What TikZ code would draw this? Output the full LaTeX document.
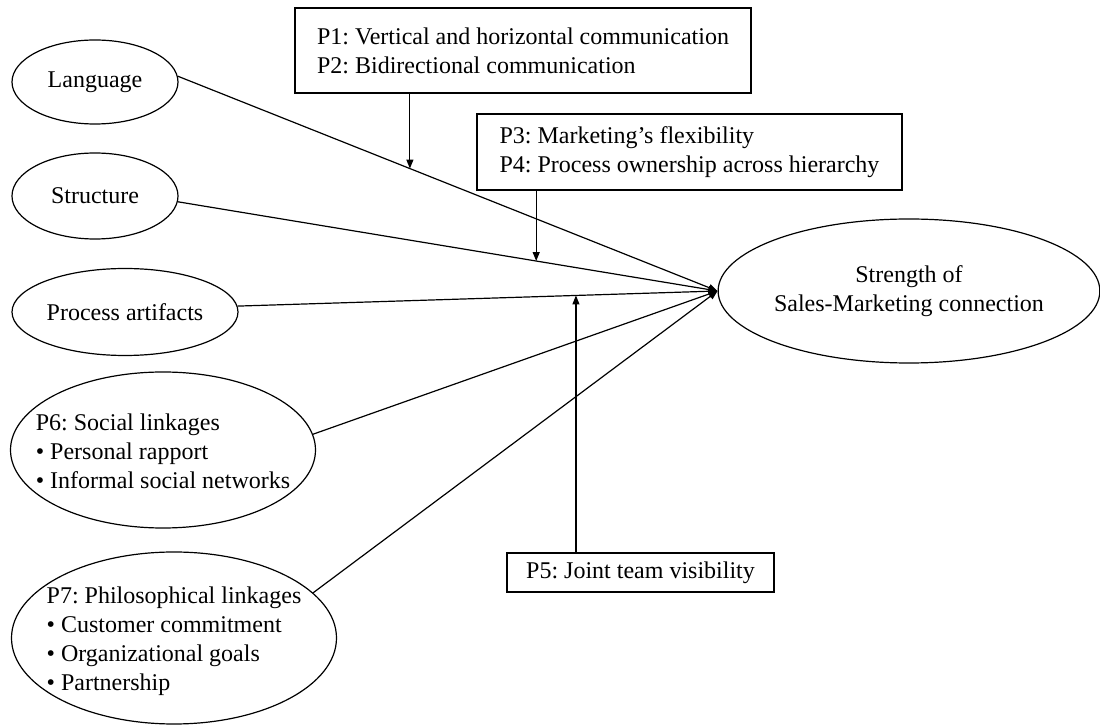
\documentclass[tikz,border=0pt]{standalone}
\usepackage{fontspec}
\setmainfont{Liberation Serif}
\usetikzlibrary{shapes.geometric,arrows.meta,calc}
\frenchspacing
\begin{document}
\begin{tikzpicture}[x=0.5pt,y=-0.5pt,
  font=\fontsize{12}{14.5}\selectfont,
  oval/.style={draw,ellipse,line width=0.6pt,inner sep=0pt,align=left},
  pbox/.style={draw,rectangle,line width=0.6pt,inner sep=0pt,align=left},
  link/.style={line width=0.6pt,-{Triangle[length=4.5pt,width=3.5pt]}},
  every node/.style={text=black}]
\useasboundingbox (0,0) rectangle (1100,727);
% antecedents
\node[oval,minimum width=83pt,minimum height=42pt] (lang) at (95,82) {Language};
\node[oval,minimum width=83pt,minimum height=43pt] (str) at (95,196) {Structure};
\node[oval,minimum width=113pt,minimum height=43.5pt] (proc) at (125,312) {Process artifacts};
\node[oval,minimum width=152.5pt,minimum height=78pt,
  label={[align=left,inner sep=0pt,yshift=-0.75pt]center:P6: Social linkages\\\textbullet\ Personal rapport\\\textbullet\ Informal social networks}] (p6) at (163,450) {};
\node[oval,minimum width=162.5pt,minimum height=86pt,
  label={[align=left,inner sep=0pt,yshift=-1.5pt]center:P7: Philosophical linkages\\\textbullet\ Customer commitment\\\textbullet\ Organizational goals\\\textbullet\ Partnership}] (p7) at (174,638) {};
% outcome
\node[oval,align=center,minimum width=190pt,minimum height=72pt] (s) at (909,291) {Strength of\\Sales-Marketing connection};
% moderator boxes
\node[pbox,minimum width=228pt,minimum height=42.5pt] (b1) at (523,50.5) {P1: Vertical and horizontal communication\\P2: Bidirectional communication};
\node[pbox,minimum width=212.5pt,minimum height=38pt] (b2) at (689.5,152) {P3: Marketing’s flexibility\\P4: Process ownership across hierarchy};
\node[pbox,minimum width=133.5pt,minimum height=19.5pt] (b5) at (640.5,572.5) {P5: Joint team visibility};
% main paths
\draw[link] (lang.4) -- (s.west);
\draw[link] (str.-4) -- (s.west);
\draw[link] (proc.3.5) -- (s.west);
\draw[link] (p6.6) -- (s.west);
\draw[link] (p7.18) -- (s.west);
% moderator arrows onto paths
\coordinate (m1) at ($(lang.4)!0.43!(s.west)$);
\coordinate (m2) at ($(str.-4)!0.664!(s.west)$);
\coordinate (m5) at ($(proc.3.5)!0.705!(s.west)$);
\draw[link] (b1.south -| m1) -- (m1);
\draw[link] (b2.south -| m2) -- (m2);
\draw[link] (b5.north -| m5) -- (m5);
\end{tikzpicture}
\end{document}
